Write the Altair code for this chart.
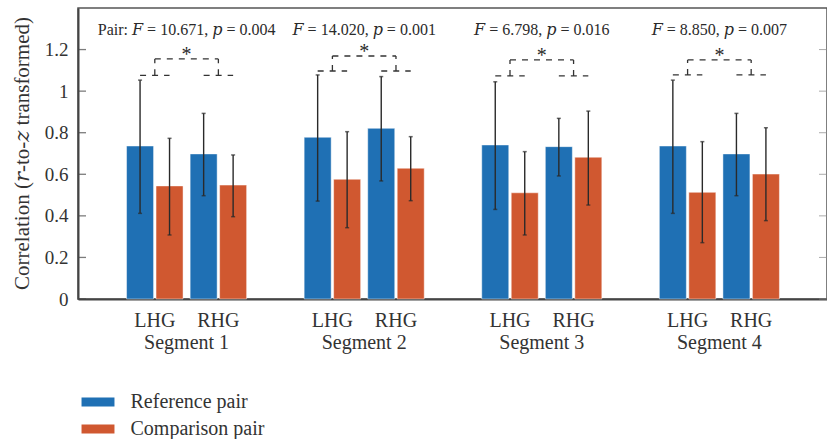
import altair as alt
import pandas as pd

# ---------------- data ----------------
segments = ["Segment 1", "Segment 2", "Segment 3", "Segment 4"]
hemispheres = ["LHG", "RHG"]
pairs = ["Reference pair", "Comparison pair"]

# order: S1-LHG, S1-RHG, S2-LHG, S2-RHG, S3-LHG, S3-RHG, S4-LHG, S4-RHG
ref_mean = [0.736, 0.698, 0.778, 0.821, 0.741, 0.733, 0.736, 0.698]
ref_lo = [0.412, 0.497, 0.471, 0.568, 0.431, 0.592, 0.412, 0.497]
ref_hi = [1.053, 0.893, 1.078, 1.070, 1.045, 0.869, 1.053, 0.893]
cmp_mean = [0.544, 0.548, 0.576, 0.629, 0.511, 0.682, 0.513, 0.601]
cmp_lo = [0.308, 0.396, 0.343, 0.473, 0.308, 0.452, 0.271, 0.377]
cmp_hi = [0.773, 0.693, 0.805, 0.781, 0.709, 0.904, 0.757, 0.824]

stat_labels = [
    "Pair: \U0001D439 = 10.671, \U0001D45D = 0.004",
    "\U0001D439 = 14.020, \U0001D45D = 0.001",
    "\U0001D439 = 6.798, \U0001D45D = 0.016",
    "\U0001D439 = 8.850, \U0001D45D = 0.007",
]
sig_marks = ["*", "*", "*", "*"]
bracket_low = [1.076, 1.097, 1.073, 1.078]
bracket_high = [1.155, 1.169, 1.150, 1.150]
y_ticks = [0, 0.2, 0.4, 0.6, 0.8, 1.0, 1.2]

# ---------------- style ----------------
BLUE = "#1f70b4"
ORANGE = "#d05830"
INK = "#2a2a2a"
FONT = "Liberation Serif, DejaVu Serif, Noto Serif, serif"
W, H = 749, 291
HEMI_OFF = 0.179
PAIR_OFF = 0.083
STAT_Y = 1.294

rows = []
for si, seg in enumerate(segments):
    for hi, hem in enumerate(hemispheres):
        k = si * 2 + hi
        gc = (si + 1) + (hi * 2 - 1) * HEMI_OFF
        for pi, pair in enumerate(pairs):
            rows.append(dict(
                segment=seg, hemi=hem, pair=pair,
                x=gc + (pi * 2 - 1) * PAIR_OFF,
                mean=[ref_mean, cmp_mean][pi][k],
                lo=[ref_lo, cmp_lo][pi][k],
                hi=[ref_hi, cmp_hi][pi][k],
            ))
bars = pd.DataFrame(rows)

hemi_rows = []
for si, seg in enumerate(segments):
    for hi, hem in enumerate(hemispheres):
        hemi_rows.append(dict(x=(si + 1) + (hi * 2 - 1) * HEMI_OFF, label=hem))
hemi_df = pd.DataFrame(hemi_rows)
seg_df = pd.DataFrame(dict(x=[i + 1 for i in range(len(segments))], label=segments))
stat_df = pd.DataFrame(dict(x=[i + 1 for i in range(len(segments))], label=stat_labels,
                            y=[STAT_Y] * len(segments)))
star_df = pd.DataFrame(dict(x=[i + 1 for i in range(len(segments))], label=sig_marks,
                            y=bracket_high))

br = []
for si in range(len(segments)):
    c = si + 1
    l, r = c - HEMI_OFF, c + HEMI_OFF
    lo, hi = bracket_low[si], bracket_high[si]
    br.append(dict(x=l - PAIR_OFF, x2=l + PAIR_OFF, y=lo, y2=lo))
    br.append(dict(x=r - PAIR_OFF, x2=r + PAIR_OFF, y=lo, y2=lo))
    br.append(dict(x=l, x2=l, y=lo, y2=hi))
    br.append(dict(x=r, x2=r, y=lo, y2=hi))
    br.append(dict(x=l, x2=r, y=hi, y2=hi))
br_df = pd.DataFrame(br)
tick_df = pd.DataFrame(dict(v=y_ticks))

xscale = alt.Scale(domain=[0.4167, 0.4167 + W / 180.0], nice=False, zero=False)
xaxis = alt.Axis(labels=False, ticks=False, title=None, grid=False,
                 domainColor="#444", domainWidth=2)
yscale = alt.Scale(domain=[0, 1.4], nice=False)
yaxis = alt.Axis(values=y_ticks, format=".1~f", ticks=False, grid=False,
                 labelPadding=10, labelFont=FONT, labelFontSize=19, labelColor="#333",
                 domainColor="#444", domainWidth=2,
                 title="Correlation (\U0001D45F-to-\U0001D467 transformed)",
                 titleFont=FONT, titleFontSize=21, titleFontWeight="normal",
                 titleColor="#333", titleAngle=270, titleX=-50, titleY=145,
                 titleAlign="center", titleBaseline="alphabetic")


def X(f):
    return alt.X(f, type="quantitative", scale=xscale, axis=xaxis)


def Y(f):
    return alt.Y(f, type="quantitative", scale=yscale, axis=yaxis)


legend_path = "M-1.83,-0.5H1.83V0.5H-1.83Z"
bar_layer = alt.Chart(bars).mark_bar(size=27, stroke="white", strokeWidth=1,
                                     strokeOpacity=0.45).encode(
    x=X("x"), y=Y("mean"),
    color=alt.Color("pair:N", scale=alt.Scale(domain=pairs, range=[BLUE, ORANGE]),
                    legend=alt.Legend(orient="none", legendX=10, legendY=384, title=None,
                                      symbolType=legend_path, symbolSize=324,
                                      symbolStrokeWidth=0, symbolOpacity=1,
                                      labelFont=FONT, labelFontSize=20, labelColor="#333",
                                      labelOffset=22.5, rowPadding=7, padding=0)),
)

err_rule = alt.Chart(bars).mark_rule(color=INK, strokeWidth=1.4).encode(
    x=X("x"), y=Y("lo"), y2="hi")
cap_lo = alt.Chart(bars).mark_tick(color=INK, orient="horizontal", size=4, thickness=1.5).encode(
    x=X("x"), y=Y("lo"))
cap_hi = alt.Chart(bars).mark_tick(color=INK, orient="horizontal", size=4, thickness=1.5).encode(
    x=X("x"), y=Y("hi"))

bracket = alt.Chart(br_df).mark_rule(color="#333", strokeWidth=1.3, strokeDash=[6, 6]).encode(
    x=X("x"), x2="x2", y=Y("y"), y2="y2")

stars = alt.Chart(star_df).mark_text(font=FONT, fontSize=20, color=INK, baseline="alphabetic",
                                     dy=2).encode(x=X("x"), y=Y("y"), text="label:N")
stats = alt.Chart(stat_df).mark_text(font=FONT, fontSize=16, color=INK, baseline="middle").encode(
    x=X("x"), y=Y("y"), text="label:N")

hemi_text = alt.Chart(hemi_df).mark_text(font=FONT, fontSize=20, color="#333",
                                         baseline="middle").encode(
    x=X("x"), y=alt.value(H + 22), text="label:N")
seg_text = alt.Chart(seg_df).mark_text(font=FONT, fontSize=20, color="#333",
                                       baseline="middle").encode(
    x=X("x"), y=alt.value(H + 44), text="label:N")

ticks_left = alt.Chart(tick_df).mark_tick(color="#444", orient="horizontal", size=8,
                                          thickness=1.3).encode(
    x=alt.value(4), y=Y("v"))
ticks_right = alt.Chart(tick_df).mark_tick(color="#888", orient="horizontal", size=8,
                                           thickness=1.0).encode(
    x=alt.value(W - 4), y=Y("v"))

chart = alt.layer(bar_layer, err_rule, cap_lo, cap_hi, bracket, stars, stats,
                  hemi_text, seg_text, ticks_left, ticks_right).properties(
    width=W, height=H,
    padding={"left": 78, "top": 8, "right": 0, "bottom": 140},
    autosize=alt.AutoSizeParams(type="none"),
    background="white",
).configure_view(stroke="#555", strokeWidth=1.5)

chart.save("out.html", embed_options={"renderer": "svg", "actions": False})
